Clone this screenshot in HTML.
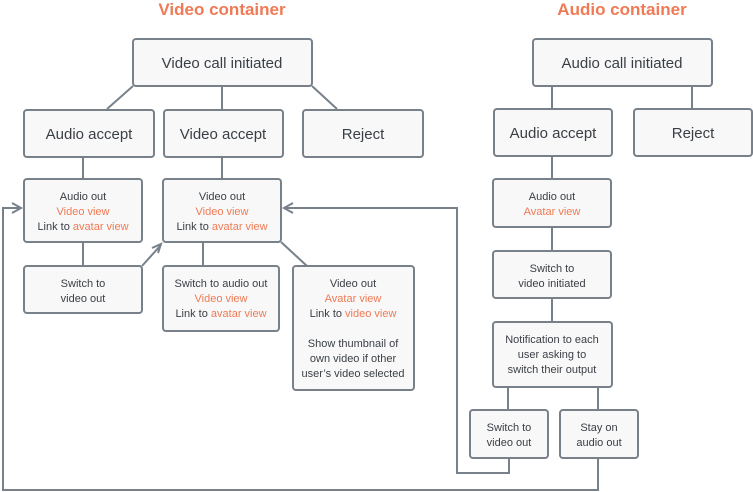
<!DOCTYPE html>
<html><head><meta charset="utf-8"><style>
body{margin:0;background:#fff;width:753px;height:492px;overflow:hidden}
svg{display:block}
text{font-family:"Liberation Sans",sans-serif;fill:#3a3f45;text-anchor:middle}
.t{fill:#f07a55;font-weight:bold;font-size:17px}
.b{font-size:15px}
.s{font-size:11px}
.o{fill:#f07a55}
rect{fill:#f8f8f8;stroke:#78808a;stroke-width:2}
line,polyline{stroke:#78808a;stroke-width:2;fill:none}
</style></head><body>
<svg width="753" height="492" viewBox="0 0 753 492">
<text class="t" x="222" y="15">Video container</text>
<text class="t" x="622" y="15">Audio container</text>

<!-- connectors -->
<line x1="133" y1="86" x2="107" y2="109"/>
<line x1="222" y1="86" x2="222" y2="109"/>
<line x1="312" y1="86" x2="337" y2="109"/>
<line x1="83" y1="157" x2="83" y2="179"/>
<line x1="222" y1="157" x2="222" y2="179"/>
<line x1="83" y1="242" x2="83" y2="266"/>
<line x1="142" y1="266" x2="160" y2="246"/>
<polyline points="152,248 161,244 158,253"/>
<line x1="203" y1="242" x2="203" y2="266"/>
<line x1="281" y1="242" x2="307" y2="266"/>
<polyline points="509,458 509,473 457,473 457,208 284,208"/>
<polyline points="293,203 284,208 293,213"/>
<polyline points="598,458 598,490 3,490 3,208 21,208"/>
<polyline points="12,203 21,208 12,213"/>
<line x1="552" y1="86" x2="552" y2="109"/>
<line x1="692" y1="86" x2="692" y2="109"/>
<line x1="552" y1="156" x2="552" y2="179"/>
<line x1="552" y1="227" x2="552" y2="251"/>
<line x1="552" y1="298" x2="552" y2="322"/>
<line x1="508" y1="387" x2="508" y2="410"/>
<line x1="598" y1="387" x2="598" y2="410"/>

<!-- video boxes -->
<rect x="133" y="39" width="179" height="47" rx="3"/>
<text class="b" x="222" y="68">Video call initiated</text>
<rect x="24" y="110" width="130" height="47" rx="3"/>
<text class="b" x="89" y="139">Audio accept</text>
<rect x="164" y="110" width="119" height="47" rx="3"/>
<text class="b" x="223" y="139">Video accept</text>
<rect x="303" y="110" width="120" height="47" rx="3"/>
<text class="b" x="363" y="139">Reject</text>

<rect x="24" y="179" width="118" height="63" rx="3"/>
<text class="s" x="83" y="200">Audio out</text>
<text class="s o" x="83" y="215">Video view</text>
<text class="s" x="83" y="230">Link to <tspan class="o">avatar view</tspan></text>
<rect x="163" y="179" width="118" height="63" rx="3"/>
<text class="s" x="222" y="200">Video out</text>
<text class="s o" x="222" y="215">Video view</text>
<text class="s" x="222" y="230">Link to <tspan class="o">avatar view</tspan></text>

<rect x="24" y="266" width="118" height="47" rx="3"/>
<text class="s" x="83" y="287">Switch to</text>
<text class="s" x="83" y="302">video out</text>
<rect x="163" y="266" width="116" height="65" rx="3"/>
<text class="s" x="221" y="287">Switch to audio out</text>
<text class="s o" x="221" y="302">Video view</text>
<text class="s" x="221" y="317">Link to <tspan class="o">avatar view</tspan></text>
<rect x="293" y="266" width="121" height="124" rx="3"/>
<text class="s" x="353" y="287">Video out</text>
<text class="s o" x="353" y="302">Avatar view</text>
<text class="s" x="353" y="317">Link to <tspan class="o">video view</tspan></text>
<text class="s" x="353" y="347">Show thumbnail of</text>
<text class="s" x="353" y="362">own video if other</text>
<text class="s" x="353" y="377">user’s video selected</text>

<!-- audio boxes -->
<rect x="533" y="39" width="179" height="47" rx="3"/>
<text class="b" x="622" y="68">Audio call initiated</text>
<rect x="494" y="109" width="118" height="47" rx="3"/>
<text class="b" x="553" y="138">Audio accept</text>
<rect x="634" y="109" width="118" height="47" rx="3"/>
<text class="b" x="693" y="138">Reject</text>
<rect x="493" y="179" width="118" height="48" rx="3"/>
<text class="s" x="552" y="200">Audio out</text>
<text class="s o" x="552" y="215">Avatar view</text>
<rect x="493" y="251" width="118" height="47" rx="3"/>
<text class="s" x="552" y="272">Switch to</text>
<text class="s" x="552" y="287">video initiated</text>
<rect x="493" y="322" width="119" height="65" rx="3"/>
<text class="s" x="552" y="343">Notification to each</text>
<text class="s" x="552" y="358">user asking to</text>
<text class="s" x="552" y="373">switch their output</text>
<rect x="470" y="410" width="78" height="48" rx="3"/>
<text class="s" x="509" y="431">Switch to</text>
<text class="s" x="509" y="446">video out</text>
<rect x="560" y="410" width="78" height="48" rx="3"/>
<text class="s" x="599" y="431">Stay on</text>
<text class="s" x="599" y="446">audio out</text>
</svg>
</body></html>
